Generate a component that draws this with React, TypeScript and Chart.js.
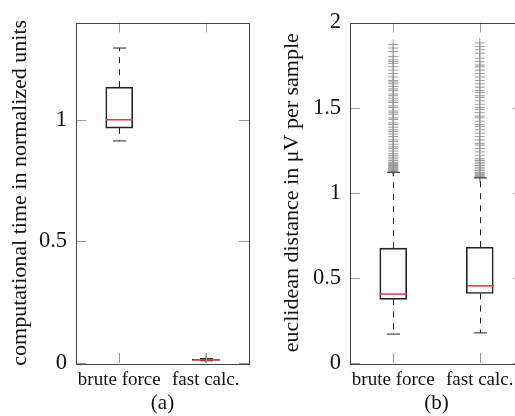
import React, { useEffect, useRef } from 'react';
import { Chart, registerables } from 'chart.js';

Chart.register(...registerables);

// ---------- data ----------
const categories = ['brute force', 'fast calc.'];

// panel (a): computational time (normalized)
const timeMin = [0.913, 0.009];
const timeQ1 = [0.966, 0.011];
const timeMedian = [1.0, 0.013];
const timeQ3 = [1.134, 0.015];
const timeMax = [1.295, 0.018];
const timeOutliersBrute: number[] = [];
const timeOutliersFast = [0.018];
const timeTicks = [0, 0.5, 1];

// panel (b): euclidean distance in µV per sample
const distMin = [0.17, 0.177];
const distQ1 = [0.374, 0.408];
const distMedian = [0.405, 0.453];
const distQ3 = [0.675, 0.68];
const distMax = [1.12, 1.087];
const distOutliersBrute = [
  1.125, 1.13, 1.135, 1.14, 1.145, 1.15, 1.155, 1.16, 1.165, 1.17, 1.175, 1.18,
  1.19, 1.2, 1.21, 1.22, 1.23, 1.245, 1.26, 1.27, 1.285, 1.3, 1.31, 1.33, 1.345,
  1.36, 1.37, 1.385, 1.4, 1.41, 1.43, 1.44, 1.46, 1.47, 1.48, 1.5, 1.51, 1.53,
  1.54, 1.555, 1.57, 1.58, 1.6, 1.61, 1.625, 1.64, 1.65, 1.66, 1.68, 1.7, 1.72,
  1.74, 1.76, 1.77, 1.78, 1.8, 1.83, 1.85, 1.87,
];
const distOutliersFast = [
  1.09, 1.095, 1.1, 1.105, 1.11, 1.115, 1.12, 1.13, 1.14, 1.15, 1.16, 1.17, 1.18,
  1.19, 1.2, 1.22, 1.24, 1.26, 1.28, 1.29, 1.31, 1.33, 1.35, 1.37, 1.39, 1.4,
  1.42, 1.44, 1.45, 1.47, 1.49, 1.5, 1.52, 1.54, 1.56, 1.57, 1.59, 1.6, 1.62,
  1.64, 1.66, 1.68, 1.7, 1.72, 1.74, 1.75, 1.77, 1.79, 1.82, 1.84, 1.86, 1.88,
];
const distTicks = [0, 0.5, 1, 1.5, 2];

// ---------- styling ----------
const FONT_FAMILY = '"Liberation Serif", "DejaVu Serif", serif';
const TEXT = '#111111';
const FRAME = '#444444';
const TICKC = '#9a9a9a';
const BOXC = '#222222';
const MEDC = '#e8323a';
const OUTC = '#999999';

type Stats = { min: number[]; q1: number[]; med: number[]; q3: number[]; max: number[] };

const whiskerPlugin = (s: Stats) => ({
  id: 'whiskers',
  afterDatasetsDraw(chart: any) {
    const { ctx } = chart;
    const xs = chart.scales.x;
    const ys = chart.scales.y;
    const seg = (x1: number, y1: number, x2: number, y2: number) => {
      ctx.beginPath();
      ctx.moveTo(x1, y1);
      ctx.lineTo(x2, y2);
      ctx.stroke();
    };
    ctx.save();
    s.med.forEach((m, i) => {
      const x = Math.round(xs.getPixelForValue(i)) + 0.5;
      const half = 13.5;
      const cap = 6.5;
      ctx.strokeStyle = BOXC;
      ctx.lineWidth = 1;
      ctx.setLineDash([6, 6]);
      seg(x, ys.getPixelForValue(s.q3[i]), x, ys.getPixelForValue(s.max[i]));
      seg(x, ys.getPixelForValue(s.q1[i]), x, ys.getPixelForValue(s.min[i]));
      ctx.setLineDash([]);
      const yMax = ys.getPixelForValue(s.max[i]);
      const yMin = ys.getPixelForValue(s.min[i]);
      seg(x - cap, yMax, x + cap, yMax);
      seg(x - cap, yMin, x + cap, yMin);
      ctx.strokeStyle = MEDC;
      ctx.lineWidth = 1.5;
      const ym = ys.getPixelForValue(m);
      seg(x - half, ym, x + half, ym);
    });
    ctx.restore();
  },
});

const framePlugin = {
  id: 'frame',
  afterDraw(chart: any) {
    const { ctx, chartArea: a } = chart;
    const xs = chart.scales.x;
    const ys = chart.scales.y;
    const L = 10;
    ctx.save();
    ctx.lineWidth = 1;
    ctx.strokeStyle = TICKC;
    ys.ticks.forEach((_t: any, i: number) => {
      const y = Math.round(ys.getPixelForTick(i)) + 0.5;
      ctx.beginPath();
      ctx.moveTo(a.left, y);
      ctx.lineTo(a.left + L, y);
      ctx.moveTo(a.right, y);
      ctx.lineTo(a.right - L, y);
      ctx.stroke();
    });
    xs.ticks.forEach((_t: any, i: number) => {
      const x = Math.round(xs.getPixelForTick(i)) + 0.5;
      ctx.beginPath();
      ctx.moveTo(x, a.top);
      ctx.lineTo(x, a.top + L);
      ctx.moveTo(x, a.bottom);
      ctx.lineTo(x, a.bottom - L);
      ctx.stroke();
    });
    ctx.strokeStyle = FRAME;
    ctx.strokeRect(
      Math.round(a.left) + 0.5,
      Math.round(a.top) + 0.5,
      Math.round(a.right - a.left),
      Math.round(a.bottom - a.top)
    );
    ctx.restore();
  },
};

type PanelProps = {
  left: number;
  width: number;
  stats: Stats;
  outliers: number[][];
  yMax: number;
  yTicks: number[];
  yTitle: string;
  caption: string;
  yAxisWidth: number;
  yTitlePad: number;
  padRight: number;
};

function Panel(p: PanelProps) {
  const ref = useRef<HTMLCanvasElement | null>(null);
  useEffect(() => {
    if (!ref.current) return;
    const tickFont = { family: FONT_FAMILY, size: 22.5 };
    const titleFont = { family: FONT_FAMILY, size: 22 };
    const catFont = { family: FONT_FAMILY, size: 19 };
    const capFont = { family: FONT_FAMILY, size: 21 };
    const outlierSets = p.outliers.map((vals, ci) => ({
      type: 'scatter' as const,
      data: vals.map((v) => ({ x: categories[ci], y: v })),
      pointStyle: 'cross',
      radius: 5,
      borderColor: OUTC,
      backgroundColor: OUTC,
      borderWidth: 1,
      order: 2,
    }));
    const chart = new Chart(ref.current, {
      data: {
        labels: categories,
        datasets: [
          {
            type: 'bar',
            data: p.stats.q1.map((q, i) => [q, p.stats.q3[i]]) as any,
            backgroundColor: 'rgba(0,0,0,0)',
            borderColor: BOXC,
            borderWidth: 1,
            borderSkipped: false,
            barThickness: 27,
            order: 1,
          },
          ...outlierSets,
        ] as any,
      },
      options: {
        animation: false,
        responsive: false,
        devicePixelRatio: 1,
        layout: { padding: { top: 18, right: p.padRight, left: 0, bottom: 0 } },
        plugins: {
          legend: { display: false },
          tooltip: { enabled: false },
        },
        scales: {
          x: {
            type: 'category',
            offset: true,
            grid: { display: false, drawTicks: false },
            border: { display: false },
            ticks: { font: catFont, color: TEXT, padding: 6, maxRotation: 0, autoSkip: false },
            title: {
              display: true,
              text: p.caption,
              font: capFont,
              color: TEXT,
              padding: { top: 0, bottom: 0 },
            },
            afterFit: (s: any) => {
              s.height = 416 - 363;
            },
          },
          y: {
            type: 'linear',
            min: 0,
            max: p.yMax,
            afterBuildTicks: (s: any) => {
              s.ticks = p.yTicks.map((v) => ({ value: v }));
            },
            grid: { display: false, drawTicks: false },
            border: { display: false },
            ticks: {
              font: tickFont,
              color: TEXT,
              padding: 9,
              callback: (v: any) => String(v),
            },
            title: {
              display: true,
              text: p.yTitle,
              font: titleFont,
              color: TEXT,
              padding: { top: p.yTitlePad, bottom: 0 },
            },
            afterFit: (s: any) => {
              s.width = p.yAxisWidth;
            },
          },
        },
      } as any,
      plugins: [whiskerPlugin(p.stats), framePlugin],
    });
    return () => chart.destroy();
  }, []);
  return (
    <canvas
      ref={ref}
      width={p.width}
      height={416}
      style={{ position: 'absolute', left: p.left, top: 0, width: p.width, height: 416 }}
    />
  );
}

export default function App() {
  return (
    <div
      style={{
        position: 'fixed',
        left: 0,
        top: 0,
        width: 515,
        height: 416,
        overflow: 'hidden',
        background: '#ffffff',
      }}
    >
      <Panel
        left={0}
        width={260}
        stats={{ min: timeMin, q1: timeQ1, med: timeMedian, q3: timeQ3, max: timeMax }}
        outliers={[timeOutliersBrute, timeOutliersFast]}
        yMax={1.4}
        yTicks={timeTicks}
        yTitle="computational time in normalized units"
        caption="(a)"
        yAxisWidth={76}
        yTitlePad={6.8}
        padRight={11}
      />
      <Panel
        left={255}
        width={280}
        stats={{ min: distMin, q1: distQ1, med: distMedian, q3: distQ3, max: distMax }}
        outliers={[distOutliersBrute, distOutliersFast]}
        yMax={2}
        yTicks={distTicks}
        yTitle="euclidean distance in μV per sample"
        caption="(b)"
        yAxisWidth={95}
        yTitlePad={23.8}
        padRight={12}
      />
    </div>
  );
}
